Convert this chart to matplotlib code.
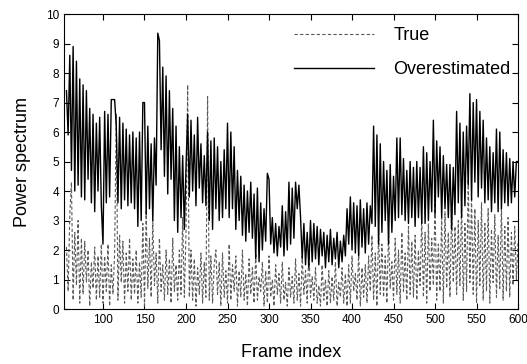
import numpy as np
import matplotlib
matplotlib.use("Agg")
import matplotlib.pyplot as plt

plt.rcParams['font.family'] = ['Liberation Sans', 'DejaVu Sans']

# frame index (every 2nd frame)
frames = np.arange(56, 601, 2)

# overestimated power spectrum
overestimated = [
    7.4, 5.9, 8.6, 4.7, 8.9, 4.0, 8.4, 4.2, 7.8, 3.8,
    7.6, 3.7, 7.4, 4.4, 6.8, 3.6, 6.6, 3.3, 6.3, 4.0,
    6.5, 3.5, 2.2, 6.7, 3.6, 6.6, 3.8, 7.1, 7.1, 7.1,
    6.2, 3.6, 6.5, 3.4, 6.3, 3.7, 6.1, 3.5, 5.9, 3.6,
    6.0, 3.4, 5.8, 2.8, 6.0, 3.0, 7.0, 7.0, 3.2, 6.2,
    3.4, 5.6, 3.0, 5.8, 4.2, 9.35, 9.1, 5.4, 8.2, 4.5,
    7.9, 3.9, 7.4, 4.4, 6.8, 3.0, 6.2, 2.6, 5.5, 3.1,
    5.2, 2.7, 4.8, 6.6, 3.8, 6.4, 4.0, 5.9, 3.5, 6.5,
    4.1, 5.6, 3.6, 5.2, 3.5, 6.0, 3.0, 5.7, 2.7, 5.8,
    3.4, 5.5, 3.0, 5.0, 3.1, 5.4, 3.4, 6.3, 3.1, 6.0,
    3.4, 5.5, 2.7, 4.7, 3.0, 4.5, 2.5, 4.2, 2.3, 4.0,
    2.6, 4.3, 2.4, 3.9, 1.7, 4.1, 1.6, 3.6, 2.0, 3.4,
    2.3, 4.6, 4.4, 2.2, 3.1, 1.9, 2.9, 1.8, 2.8, 2.1,
    3.5, 1.8, 3.3, 2.0, 4.3, 2.2, 4.1, 2.4, 4.3, 3.4,
    4.2, 3.1, 1.7, 2.9, 1.5, 2.6, 1.4, 3.0, 1.6, 2.9,
    1.7, 2.8, 1.5, 2.7, 1.8, 2.6, 1.4, 2.5, 1.6, 2.7,
    1.5, 2.4, 1.7, 2.6, 1.4, 2.3, 1.6, 2.5, 1.8, 3.4,
    2.2, 3.8, 2.0, 3.6, 1.9, 3.5, 1.8, 3.7, 2.1, 3.4,
    1.9, 3.6, 2.2, 3.5, 2.9, 6.2, 2.8, 5.9, 2.2, 5.6,
    2.6, 5.0, 3.0, 4.7, 2.2, 4.9, 2.6, 4.5, 3.0, 5.8,
    3.1, 5.8, 3.2, 5.1, 3.0, 4.7, 2.9, 5.0, 3.1, 4.8,
    2.8, 5.0, 3.1, 4.8, 2.9, 5.5, 2.9, 5.3, 3.0, 5.0,
    3.3, 6.4, 3.2, 5.7, 3.8, 5.5, 3.1, 5.2, 3.4, 4.9,
    3.1, 4.9, 2.7, 4.8, 3.2, 6.7, 3.6, 6.3, 3.1, 6.0,
    3.5, 6.2, 4.2, 7.3, 3.7, 7.0, 4.3, 7.1, 3.8, 6.7,
    4.1, 6.4, 3.6, 5.8, 3.7, 5.5, 3.3, 5.3, 3.6, 6.1,
    3.3, 6.0, 3.4, 5.4, 3.6, 5.3, 3.5, 5.1, 3.6, 5.0,
    3.8, 5.0, 5.0,
]

# true power spectrum
true_spec = [
    2.1, 0.6, 3.2, 4.3, 0.3, 2.6, 0.8, 3.0, 0.2, 2.4,
    0.5, 2.3, 0.9, 2.0, 0.1, 1.6, 0.7, 2.1, 0.3, 1.8,
    0.4, 2.2, 0.2, 1.8, 0.6, 2.2, 0.1, 1.5, 0.5, 1.9,
    6.6, 0.3, 2.5, 0.9, 2.3, 0.2, 1.9, 0.6, 2.4, 0.3,
    1.7, 0.5, 2.0, 0.2, 1.6, 0.4, 2.9, 0.1, 3.3, 0.7,
    2.4, 0.4, 3.0, 0.8, 1.9, 0.2, 2.4, 0.6, 1.5, 0.3,
    2.0, 0.5, 1.7, 0.2, 2.4, 0.6, 1.5, 0.3, 2.0, 0.5,
    3.1, 0.4, 2.6, 7.6, 0.4, 2.0, 0.3, 1.7, 0.1, 1.4,
    0.5, 1.9, 0.2, 1.6, 0.4, 7.2, 0.3, 1.8, 0.2, 1.5,
    2.0, 0.5, 1.6, 0.1, 1.9, 0.4, 1.3, 0.2, 2.2, 0.3,
    1.5, 0.6, 1.8, 0.1, 1.3, 0.4, 2.0, 0.3, 1.2, 0.1,
    1.7, 0.5, 1.4, 0.2, 1.9, 0.3, 1.1, 0.6, 1.6, 0.1,
    1.3, 0.2, 1.8, 0.4, 1.0, 0.1, 1.5, 0.5, 1.2, 0.2,
    1.6, 0.3, 0.9, 0.1, 1.4, 0.4, 1.1, 0.2, 1.7, 0.3,
    1.2, 0.1, 1.8, 0.5, 1.3, 0.2, 2.0, 0.4, 1.1, 0.3,
    1.4, 0.2, 0.8, 0.1, 1.5, 0.3, 1.0, 0.1, 1.3, 0.2,
    1.1, 0.3, 1.6, 0.1, 0.9, 0.4, 1.4, 0.2, 1.2, 0.1,
    1.5, 0.2, 1.8, 0.6, 1.2, 0.3, 1.9, 0.1, 1.4, 0.4,
    1.5, 0.2, 1.8, 0.6, 2.5, 0.3, 1.9, 0.1, 2.7, 0.5,
    2.2, 0.4, 1.8, 0.2, 2.6, 0.7, 1.6, 0.3, 2.4, 0.5,
    2.0, 0.2, 2.6, 0.6, 1.9, 0.3, 2.8, 0.5, 2.3, 0.4,
    2.5, 0.3, 2.0, 0.8, 3.1, 0.4, 2.6, 0.2, 2.9, 0.6,
    2.4, 0.8, 3.6, 0.3, 2.2, 0.6, 3.1, 0.2, 3.3, 0.7,
    2.6, 0.4, 3.4, 0.9, 2.8, 0.5, 3.0, 0.8, 3.6, 0.3,
    2.9, 0.6, 4.4, 0.9, 3.8, 0.5, 3.4, 0.2, 3.0, 0.8,
    3.6, 0.3, 2.9, 0.6, 3.4, 0.2, 2.7, 0.9, 3.2, 0.4,
    2.5, 0.7, 3.5, 0.3, 2.8, 0.6, 3.1, 0.4, 2.6, 0.8,
    2.8, 1.0, 2.3,
]

x_ticks = [100, 150, 200, 250, 300, 350, 400, 450, 500, 550, 600]
y_ticks = list(range(0, 11))

fig = plt.figure(figsize=(5.27, 3.64), dpi=100)
ax = fig.add_axes([0.1214, 0.151, 0.8616, 0.8105])

ax.plot(frames, true_spec, color='0.35', lw=0.8, linestyle=(0, (3, 2)), label='True')
ax.plot(frames, overestimated, color='black', lw=1.0, label='Overestimated')

ax.set_xlim(53, 600)
ax.set_ylim(0, 10)
ax.set_xticks(x_ticks)
ax.set_yticks(y_ticks)
ax.tick_params(direction='in', top=True, right=True, length=4, labelsize=8.5)

ax.set_xlabel('Frame index', fontsize=13, labelpad=13)
ax.set_ylabel('Power spectrum', fontsize=13, labelpad=11)

leg = ax.legend(loc='upper right', bbox_to_anchor=(1.02, 1.01), frameon=False,
                fontsize=13, handlelength=4.4, labelspacing=0.95, handletextpad=1.1)

fig.savefig('out.png', dpi=100)
